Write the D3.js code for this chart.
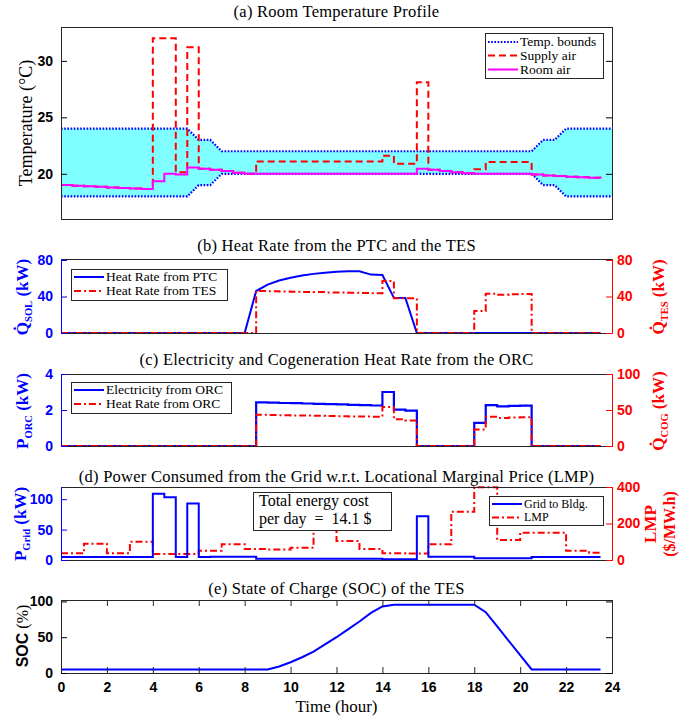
<!DOCTYPE html>
<meta charset="utf-8">
<style>
html, body {
    margin: 0;
    background: white;
}
svg text {
    font-family: "Liberation Serif", "Times New Roman", serif;
}
.tick text {
    font-family: "Liberation Sans", Arial, sans-serif;
    font-weight: bold;
    font-size: 14px;
}
</style>
<body>
<script src="https://cdn.jsdelivr.net/npm/d3@7/dist/d3.min.js"></script>
<script>

var width = 686,
    height = 719;

// half-hour samples, 0 .. 23.5 h
var hours = d3.range(0, 24, 0.5);
var hourTicks = [0, 2, 4, 6, 8, 10, 12, 14, 16, 18, 20, 22, 24];

// (a) room temperature
var boundHours = [0, 5.5, 6, 6.5, 7, 20.5, 21, 21.5, 22, 24];
var upperBound = [24, 24, 23, 23, 22, 22, 23, 23, 24, 24];
var lowerBound = [18, 18, 19, 19, 20, 20, 19, 19, 18, 18];
var roomAir = [19.0, 18.95, 18.9, 18.85, 18.8, 18.75, 18.7, 18.65,
    19.35, 20.0, 19.95, 20.55, 20.45, 20.35, 20.25, 20.1,
    20, 20, 20, 20, 20, 20, 20, 20, 20, 20, 20, 20, 20, 20, 20,
    20.45, 20.35, 20.25, 20.15, 20.05,
    20, 20, 20, 20, 20,
    19.95, 19.85, 19.8, 19.75, 19.7, 19.65, 19.6];
var supplyAir = [19.0, 18.95, 18.9, 18.85, 18.8, 18.75, 18.7, 18.65,
    32, 32, 20.15, 31.2, 20.45, 20.35, 20.25, 20.1,
    20.0, 21.1, 21.1, 21.1, 21.1, 21.1, 21.1, 21.1, 21.1, 21.1, 21.1, 21.1, 21.6, 20.9, 20.9,
    28.1, 20.35, 20.25, 20.15, 20.05,
    20.4, 21.05, 21.05, 21.05, 21.05,
    19.95, 19.85, 19.8, 19.75, 19.7, 19.65, 19.6];

// (b) heat rates (kW)
var heatPTC = [0, 0, 0, 0, 0, 0, 0, 0, 0, 0, 0, 0, 0, 0, 0, 0, 0,
    46, 53, 57.5, 60.5, 63, 64.8, 66, 67, 67.6, 67.6, 64, 63.5, 38.5, 38.3,
    0, 0, 0, 0, 0, 0, 0, 0, 0, 0, 0, 0, 0, 0, 0, 0, 0];
var heatTES = [0, 0, 0, 0, 0, 0, 0, 0, 0, 0, 0, 0, 0, 0, 0, 0, 0,
    46, 45.8, 45.5, 45.3, 45, 44.8, 44.5, 44.3, 44, 43.8, 43.5,
    57, 38, 38,
    0, 0, 0, 0, 0,
    24, 43, 42, 42.5, 42.8,
    0, 0, 0, 0, 0, 0, 0];

// (c) ORC electricity (kW) and cogeneration heat (kW)
var elecORC = [0, 0, 0, 0, 0, 0, 0, 0, 0, 0, 0, 0, 0, 0, 0, 0, 0,
    2.42, 2.41, 2.39, 2.38, 2.36, 2.34, 2.33, 2.31, 2.29, 2.27, 2.25,
    3.0, 2.02, 1.96,
    0, 0, 0, 0, 0,
    1.28, 2.27, 2.2, 2.23, 2.24,
    0, 0, 0, 0, 0, 0, 0];
var heatORC = [0, 0, 0, 0, 0, 0, 0, 0, 0, 0, 0, 0, 0, 0, 0, 0, 0,
    43.3, 43.0, 42.8, 42.5, 42.2, 41.9, 41.6, 41.3, 41.0, 40.8, 40.5,
    54, 37, 35.5,
    0, 0, 0, 0, 0,
    23, 40.5, 39, 39.7, 40,
    0, 0, 0, 0, 0, 0, 0];

// (d) grid power (kW) and hourly LMP ($/MWh)
var gridPower = [5, 5, 5, 5, 5, 5, 5, 5,
    109, 103, 5, 93, 5, 5.5, 5.5, 5.5, 5.5,
    2, 2, 2, 2, 2, 2, 2, 2, 2, 2, 2,
    1.2, 1.2, 1.2,
    72, 5.5, 5.5, 5.5, 5.5,
    3, 3, 3, 3, 3,
    5, 5, 5, 5, 5, 5, 5];
var lmpHourly = [37, 89, 37, 100, 33, 33, 51, 86, 60, 57, 67, 168,
    104, 60, 37, 35, 86, 265, 398, 110, 150, 150, 51, 40];
var totalCost = "14.1";

// (e) state of charge (%)
var soc = [5, 5, 5, 5, 5, 5, 5, 5, 5, 5, 5, 5, 5, 5, 5, 5, 5, 5, 5,
    9, 15, 22, 30, 40, 50, 61, 72, 84, 93, 95.5,
    95.5, 95.5, 95.5, 95.5, 95.5, 95.5, 95.5,
    85, 65, 45, 25,
    5, 5, 5, 5, 5, 5, 5];

var BLUE = "#0000ff", RED = "#ff0000", MAGENTA = "#ff00ff", AXIS = "#262626";

var svg = d3.select("body").append("svg")
    .attr("width", width)
    .attr("height", height);

var x = d3.scaleLinear().domain([0, 24]).range([61, 612]);

function pts(vals) {
    return vals.map(function(v, i) { return [hours[i], v]; });
}

function stairs(y) {
    return d3.line().curve(d3.curveStepAfter)
        .x(function(d) { return x(d[0]); })
        .y(function(d) { return y(d[1]); });
}
function plain(y) {
    return d3.line()
        .x(function(d) { return x(d[0]); })
        .y(function(d) { return y(d[1]); });
}

function title(yPos, txt) {
    svg.append("text")
        .attr("x", 336.5).attr("y", yPos)
        .attr("text-anchor", "middle")
        .style("font-size", "16.5px")
        .style("letter-spacing", "0.25px")
        .text(txt);
}

function yAxis(y, ticks, color, side) {
    var ax = side === "left" ? d3.axisLeft(y) : d3.axisRight(y);
    ax.tickValues(ticks).tickSize(-6).tickPadding(side === "left" ? 8 : 5).tickFormat(d3.format("d"));
    var g = svg.append("g")
        .attr("transform", "translate(" + (side === "left" ? 61 : 612) + ",0)")
        .call(ax);
    g.select(".domain").remove();
    g.selectAll(".tick line").attr("stroke", color);
    g.selectAll(".tick text").attr("fill", color);
    return g;
}

function frame(top, bottom, leftColor, rightColor) {
    var g = svg.append("g").attr("fill", "none").attr("stroke-width", 1);
    g.append("line").attr("x1", 61).attr("x2", 612).attr("y1", top + 0.5).attr("y2", top + 0.5).attr("stroke", AXIS);
    g.append("line").attr("x1", 61).attr("x2", 612).attr("y1", bottom + 0.5).attr("y2", bottom + 0.5).attr("stroke", AXIS);
    g.append("line").attr("x1", 61.5).attr("x2", 61.5).attr("y1", top).attr("y2", bottom + 1).attr("stroke", leftColor);
    g.append("line").attr("x1", 612.5).attr("x2", 612.5).attr("y1", top).attr("y2", bottom + 1).attr("stroke", rightColor);
}

// rotated axis label built from pieces {t, sub}
function yLabel(cx, cy, parts, color, size, weight) {
    var t = svg.append("text")
        .attr("transform", "translate(" + cx + "," + cy + ") rotate(-90)")
        .attr("text-anchor", "middle")
        .attr("fill", color)
        .style("font-size", size + "px")
        .style("font-weight", weight || "bold");
    var shifted = false;
    parts.forEach(function(p) {
        var ts = t.append("tspan").text(p.t);
        if (p.sub) {
            ts.attr("dy", 4).style("font-size", (size * 0.62) + "px");
            shifted = true;
        } else if (shifted) {
            ts.attr("dy", -4);
            shifted = false;
        }
        if (p.font) ts.style("font-family", p.font);
        if (p.weight) ts.style("font-weight", p.weight);
    });
}

function legend(x0, y0, w, h, rows, dy, size) {
    var g = svg.append("g");
    g.append("rect").attr("x", x0 + 0.5).attr("y", y0 + 0.5).attr("width", w).attr("height", h)
        .attr("fill", "white").attr("stroke", AXIS);
    rows.forEach(function(r, i) {
        var yy = y0 + dy[i];
        g.append("line").attr("x1", x0 + 3).attr("x2", x0 + 33).attr("y1", yy).attr("y2", yy)
            .attr("stroke", r.color).attr("stroke-width", r.width || 2)
            .attr("stroke-dasharray", r.dash || null);
        g.append("text").attr("x", x0 + 35).attr("y", yy).attr("dy", "0.33em")
            .style("font-size", size + "px").text(r.label);
    });
}

var DOT = "1.6,1.6", DASH = "7,4", DASHDOT = "7,3,2,3";

// ---------- (a) ----------
title(17, "(a) Room Temperature Profile");
var ya = d3.scaleLinear().domain([16, 33]).range([219, 27]);
var bounds = boundHours.map(function(h, i) { return {h: h, lo: lowerBound[i], hi: upperBound[i]}; });

svg.append("path")
    .datum(bounds)
    .attr("fill", "#7fffff")
    .attr("d", d3.area().x(function(d) { return x(d.h); })
        .y0(function(d) { return ya(d.lo); }).y1(function(d) { return ya(d.hi); }));
["hi", "lo"].forEach(function(k) {
    svg.append("path")
        .datum(bounds)
        .attr("fill", "none").attr("stroke", BLUE).attr("stroke-width", 2.2)
        .attr("stroke-dasharray", DOT)
        .attr("d", d3.line().x(function(d) { return x(d.h); }).y(function(d) { return ya(d[k]); }));
});
svg.append("path")
    .datum(pts(supplyAir))
    .attr("fill", "none").attr("stroke", RED).attr("stroke-width", 2)
    .attr("stroke-dasharray", DASH)
    .attr("d", stairs(ya));
svg.append("path")
    .datum(pts(roomAir))
    .attr("fill", "none").attr("stroke", MAGENTA).attr("stroke-width", 2)
    .attr("d", stairs(ya));

frame(27, 219, AXIS, AXIS);
yAxis(ya, [20, 25, 30], "#000", "left");
yAxis(ya, [20, 25, 30], "#000", "right").selectAll(".tick text").remove();
yLabel(32, 123, [{t: "Temperature (°C)"}], "#000", 18, "normal");
legend(485, 33, 118, 45, [
    {label: "Temp. bounds", color: BLUE, dash: DOT, width: 2.2},
    {label: "Supply air", color: RED, dash: DASH},
    {label: "Room air", color: MAGENTA}
], [9, 22.5, 36.5], 13.5);

// ---------- (b) ----------
title(251, "(b) Heat Rate from the PTC and the TES");
var yb = d3.scaleLinear().domain([0, 80]).range([333, 260]);
svg.append("path").datum(pts(heatPTC))
    .attr("fill", "none").attr("stroke", BLUE).attr("stroke-width", 2)
    .attr("d", plain(yb));
svg.append("path").datum(pts(heatTES))
    .attr("fill", "none").attr("stroke", RED).attr("stroke-width", 2)
    .attr("stroke-dasharray", DASHDOT)
    .attr("d", stairs(yb));
frame(259, 333, BLUE, RED);
yAxis(yb, [0, 40, 80], BLUE, "left");
yAxis(yb, [0, 40, 80], RED, "right");
yLabel(28, 297, [{t: "Q\u0307"}, {t: "SOL", sub: true}, {t: " (kW)"}], BLUE, 17);
yLabel(664, 297, [{t: "Q\u0307"}, {t: "TES", sub: true}, {t: " (kW)"}], RED, 17);
legend(71, 269, 156, 31, [
    {label: "Heat Rate from PTC", color: BLUE},
    {label: "Heat Rate from TES", color: RED, dash: DASHDOT}
], [8, 22], 13.5);

// ---------- (c) ----------
title(365, "(c) Electricity and Cogeneration Heat Rate from the ORC");
var yc = d3.scaleLinear().domain([0, 4]).range([446, 374]);
var ycR = d3.scaleLinear().domain([0, 100]).range([446, 374]);
svg.append("path").datum(pts(elecORC))
    .attr("fill", "none").attr("stroke", BLUE).attr("stroke-width", 2.2)
    .attr("d", stairs(yc));
svg.append("path").datum(pts(heatORC))
    .attr("fill", "none").attr("stroke", RED).attr("stroke-width", 2)
    .attr("stroke-dasharray", DASHDOT)
    .attr("d", stairs(ycR));
frame(374, 446, BLUE, RED);
yAxis(yc, [0, 2, 4], BLUE, "left");
yAxis(ycR, [0, 50, 100], RED, "right");
yLabel(28, 411, [{t: "P"}, {t: "ORC", sub: true}, {t: " (kW)"}], BLUE, 17);
yLabel(664, 411, [{t: "Q\u0307"}, {t: "COG", sub: true}, {t: " (kW)"}], RED, 17);
legend(71, 382, 160, 31, [
    {label: "Electricity from ORC", color: BLUE},
    {label: "Heat Rate from ORC", color: RED, dash: DASHDOT}
], [8, 22], 13.5);

// ---------- (d) ----------
title(482, "(d) Power Consumed from the Grid w.r.t. Locational Marginal Price (LMP)");
var yd = d3.scaleLinear().domain([0, 120]).range([560, 487]);
var ydR = d3.scaleLinear().domain([0, 400]).range([560, 487]);
var lmpHalf = hours.map(function(h) { return [h, lmpHourly[Math.floor(h)]]; });
svg.append("path").datum(lmpHalf)
    .attr("fill", "none").attr("stroke", RED).attr("stroke-width", 2)
    .attr("stroke-dasharray", DASHDOT)
    .attr("d", stairs(ydR));
svg.append("path").datum(pts(gridPower))
    .attr("fill", "none").attr("stroke", BLUE).attr("stroke-width", 2)
    .attr("d", stairs(yd));
frame(487, 560, BLUE, RED);
yAxis(yd, [0, 50, 100], BLUE, "left");
yAxis(ydR, [0, 200, 400], RED, "right");
yLabel(26, 524, [{t: "P"}, {t: "Grid", sub: true}, {t: " (kW)"}], BLUE, 17);
yLabel(656, 524, [{t: "LMP"}], RED, 17);
yLabel(675, 524, [{t: "($/MW.h)"}], RED, 16);
legend(489, 496, 114, 29, [
    {label: "Grid to Bldg.", color: BLUE},
    {label: "LMP", color: RED, dash: DASHDOT}
], [8, 21.5], 12);

var box = svg.append("g");
box.append("rect").attr("x", 253.5).attr("y", 492.5).attr("width", 138).attr("height", 38)
    .attr("fill", "white").attr("stroke", AXIS);
box.append("text").attr("x", 259).attr("y", 506).style("font-size", "16px").text("Total energy cost");
box.append("text").attr("x", 259).attr("y", 524).style("font-size", "16px")
    .style("white-space", "pre").text("per day  =  " + totalCost + " $");

// ---------- (e) ----------
title(594, "(e) State of Charge (SOC) of the TES");
var ye = d3.scaleLinear().domain([0, 102]).range([673, 600]);
svg.append("path").datum(pts(soc))
    .attr("fill", "none").attr("stroke", BLUE).attr("stroke-width", 2)
    .attr("d", plain(ye));
frame(600, 673, AXIS, AXIS);
yAxis(ye, [0, 50, 100], "#000", "left");
yAxis(ye, [0, 50, 100], "#000", "right").selectAll(".tick text").remove();

var xb = svg.append("g").attr("transform", "translate(0,673)")
    .call(d3.axisBottom(x).tickValues(hourTicks).tickSize(-6).tickPadding(9));
xb.select(".domain").remove();
xb.selectAll(".tick line").attr("stroke", AXIS);
var xt = svg.append("g").attr("transform", "translate(0,600)")
    .call(d3.axisTop(x).tickValues(hourTicks).tickSize(-6).tickFormat(""));
xt.select(".domain").remove();
xt.selectAll(".tick line").attr("stroke", AXIS);

yLabel(28, 636, [{t: "SOC", font: "Liberation Sans, Arial, sans-serif"}, {t: " (%)", weight: "normal"}], "#000", 16);
svg.append("text").attr("x", 336.5).attr("y", 712).attr("text-anchor", "middle")
    .style("font-size", "17px").text("Time (hour)");

</script>
